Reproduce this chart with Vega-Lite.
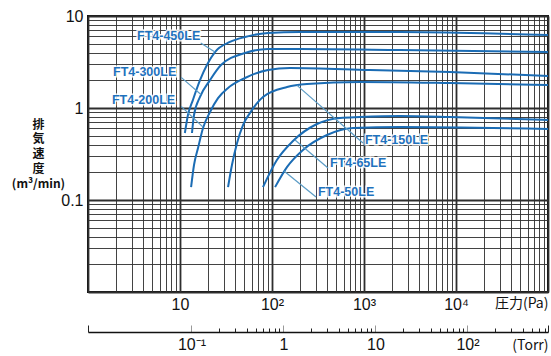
{
  "$schema": "https://vega.github.io/schema/vega-lite/v6.json",
  "width": 460,
  "height": 276,
  "autosize": {"type": "none"},
  "padding": {"left": 88, "top": 16, "right": 3, "bottom": 64},
  "background": "white",
  "config": {"view": {"stroke": "#111", "strokeWidth": 2}, "font": "Liberation Sans"},
  "datasets": {
    "curves": [
      {"model": "FT4-450LE", "p": 11.3, "s": 0.535},
      {"model": "FT4-450LE", "p": 12.2, "s": 0.84},
      {"model": "FT4-450LE", "p": 13.8, "s": 1.22},
      {"model": "FT4-450LE", "p": 16.5, "s": 2.01},
      {"model": "FT4-450LE", "p": 24.0, "s": 4.06},
      {"model": "FT4-450LE", "p": 34.9, "s": 5.22},
      {"model": "FT4-450LE", "p": 50.9, "s": 5.91},
      {"model": "FT4-450LE", "p": 90.5, "s": 6.54},
      {"model": "FT4-450LE", "p": 201, "s": 6.7},
      {"model": "FT4-450LE", "p": 2460, "s": 6.7},
      {"model": "FT4-450LE", "p": 20000, "s": 6.5},
      {"model": "FT4-450LE", "p": 100000, "s": 6.22},
      {"model": "FT4-300LE", "p": 13.5, "s": 0.535},
      {"model": "FT4-300LE", "p": 14.2, "s": 0.84},
      {"model": "FT4-300LE", "p": 16.5, "s": 1.32},
      {"model": "FT4-300LE", "p": 21.2, "s": 2.01},
      {"model": "FT4-300LE", "p": 27.9, "s": 2.93},
      {"model": "FT4-300LE", "p": 50.9, "s": 3.96},
      {"model": "FT4-300LE", "p": 90.5, "s": 4.38},
      {"model": "FT4-300LE", "p": 201, "s": 4.38},
      {"model": "FT4-300LE", "p": 2460, "s": 4.27},
      {"model": "FT4-300LE", "p": 100000, "s": 4.06},
      {"model": "FT4-200LE", "p": 13.2, "s": 0.138},
      {"model": "FT4-200LE", "p": 14.2, "s": 0.24},
      {"model": "FT4-200LE", "p": 15.7, "s": 0.367},
      {"model": "FT4-200LE", "p": 17.8, "s": 0.606},
      {"model": "FT4-200LE", "p": 21.2, "s": 0.905},
      {"model": "FT4-200LE", "p": 25.9, "s": 1.28},
      {"model": "FT4-200LE", "p": 33.3, "s": 1.65},
      {"model": "FT4-200LE", "p": 50.9, "s": 2.12},
      {"model": "FT4-200LE", "p": 90.5, "s": 2.59},
      {"model": "FT4-200LE", "p": 157, "s": 2.72},
      {"model": "FT4-200LE", "p": 1160, "s": 2.59},
      {"model": "FT4-200LE", "p": 8600, "s": 2.46},
      {"model": "FT4-200LE", "p": 100000, "s": 2.23},
      {"model": "FT4-150LE", "p": 33.3, "s": 0.138},
      {"model": "FT4-150LE", "p": 36.7, "s": 0.24},
      {"model": "FT4-150LE", "p": 41.7, "s": 0.417},
      {"model": "FT4-150LE", "p": 48.4, "s": 0.653},
      {"model": "FT4-150LE", "p": 57.5, "s": 0.88},
      {"model": "FT4-150LE", "p": 79.8, "s": 1.32},
      {"model": "FT4-150LE", "p": 146, "s": 1.69},
      {"model": "FT4-150LE", "p": 240, "s": 1.82},
      {"model": "FT4-150LE", "p": 905, "s": 1.92},
      {"model": "FT4-150LE", "p": 8600, "s": 1.87},
      {"model": "FT4-150LE", "p": 100000, "s": 1.78},
      {"model": "FT4-65LE", "p": 79.8, "s": 0.138},
      {"model": "FT4-65LE", "p": 113, "s": 0.272},
      {"model": "FT4-65LE", "p": 169, "s": 0.438},
      {"model": "FT4-65LE", "p": 308, "s": 0.67},
      {"model": "FT4-65LE", "p": 548, "s": 0.779},
      {"model": "FT4-65LE", "p": 905, "s": 0.798},
      {"model": "FT4-65LE", "p": 2460, "s": 0.818},
      {"model": "FT4-65LE", "p": 8600, "s": 0.8},
      {"model": "FT4-65LE", "p": 100000, "s": 0.74},
      {"model": "FT4-50LE", "p": 108, "s": 0.138},
      {"model": "FT4-50LE", "p": 146, "s": 0.229},
      {"model": "FT4-50LE", "p": 217, "s": 0.35},
      {"model": "FT4-50LE", "p": 396, "s": 0.509},
      {"model": "FT4-50LE", "p": 760, "s": 0.606},
      {"model": "FT4-50LE", "p": 2460, "s": 0.621},
      {"model": "FT4-50LE", "p": 100000, "s": 0.59}
    ],
    "leaders": [
      {"model": "FT4-450LE", "p": 16.8, "s": 5.1, "p2": 24.0, "s2": 4.06},
      {"model": "FT4-300LE", "p": 10.3, "s": 2.15, "p2": 16.9, "s2": 1.4},
      {"model": "FT4-200LE", "p": 10.3, "s": 1.04, "p2": 17.8, "s2": 0.62},
      {"model": "FT4-150LE", "p": 187, "s": 1.76, "p2": 975, "s2": 0.417},
      {"model": "FT4-65LE", "p": 178, "s": 0.449, "p2": 406, "s2": 0.223},
      {"model": "FT4-50LE", "p": 135, "s": 0.207, "p2": 301, "s2": 0.108}
    ],
    "labels": [
      {"model": "FT4-450LE", "p": 3.41, "s": 6.06},
      {"model": "FT4-300LE", "p": 1.87, "s": 2.46},
      {"model": "FT4-200LE", "p": 1.82, "s": 1.22},
      {"model": "FT4-150LE", "p": 1025, "s": 0.449},
      {"model": "FT4-65LE", "p": 427, "s": 0.252},
      {"model": "FT4-50LE", "p": 316, "s": 0.122}
    ],
    "torr": [
      {"t": 0.0075006, "s": 1},
      {"t": 750.06, "s": 1}
    ]
  },
  "layer": [
    {
      "layer": [
        {
          "data": {"name": "curves"},
          "mark": {"type": "line", "color": "#1b6cb4", "strokeWidth": 2, "interpolate": "monotone", "clip": true},
          "encoding": {
            "x": {
              "field": "p", "type": "quantitative",
              "scale": {"type": "log", "domain": [1, 100000], "nice": false},
              "axis": {
                "title": "圧力(Pa)",
                "titleFont": "Noto Sans CJK JP",
                "titleFontSize": 14,
                "titleFontWeight": "normal",
                "titleColor": "#111",
                "titleX": 460,
                "titleY": 11,
                "titleAlign": "right",
                "titleBaseline": "middle",
                "values": [1,2,3,4,5,6,7,8,9,10,20,30,40,50,60,70,80,90,100,200,300,400,500,600,700,800,900,1000,2000,3000,4000,5000,6000,7000,8000,9000,10000,20000,30000,40000,50000,60000,70000,80000,90000,100000],
                "labelExpr": "datum.value == 10 ? '10' : datum.value == 100 ? '10²' : datum.value == 1000 ? '10³' : datum.value == 10000 ? '10⁴' : ''",
                "labelFont": "Liberation Sans",
                "labelFontSize": 16,
                "labelColor": "#111",
                "labelPadding": 4,
                "labelOverlap": false,
                "labelFlush": false,
                "labelBound": false,
                "ticks": false,
                "domain": false,
                "grid": true,
                "gridColor": "#2e2e2e",
                "gridWidth": {"condition": {"test": "abs(log(datum.value)/LN10 - round(log(datum.value)/LN10)) < 0.000001", "value": 1.8}, "value": 0.9}
              }
            },
            "y": {
              "field": "s", "type": "quantitative",
              "scale": {"type": "log", "domain": [0.01, 10], "nice": false},
              "axis": {
                "title": ["排", "気", "速", "度", "(m³/min)"],
                "titleFont": "Noto Sans CJK JP",
                "titleFontSize": 12,
                "titleFontWeight": "bold",
                "titleColor": "#111",
                "titleAngle": 0,
                "titleX": -50,
                "titleY": 108,
                "titleAlign": "center",
                "titleBaseline": "middle",
                "titleLineHeight": 14.75,
                "values": [0.01,0.02,0.03,0.04,0.05,0.06,0.07,0.08,0.09,0.1,0.2,0.3,0.4,0.5,0.6,0.7,0.8,0.9,1,2,3,4,5,6,7,8,9,10],
                "labelExpr": "datum.value == 10 ? '10' : datum.value == 1 ? '1' : datum.value == 0.1 ? '0.1' : ''",
                "labelFont": "Liberation Sans",
                "labelFontSize": 16,
                "labelColor": "#111",
                "labelPadding": 5,
                "labelOverlap": false,
                "labelFlush": false,
                "labelBound": false,
                "ticks": false,
                "domain": false,
                "grid": true,
                "gridColor": "#2e2e2e",
                "gridWidth": {"condition": {"test": "abs(log(datum.value)/LN10 - round(log(datum.value)/LN10)) < 0.000001", "value": 1.8}, "value": 0.9}
              }
            },
            "detail": {"field": "model", "type": "nominal"}
          }
        },
        {
          "data": {"name": "leaders"},
          "mark": {"type": "rule", "color": "#5b9cc6", "strokeWidth": 1.2},
          "encoding": {
            "x": {"field": "p", "type": "quantitative"},
            "y": {"field": "s", "type": "quantitative"},
            "x2": {"field": "p2"},
            "y2": {"field": "s2"}
          }
        },
        {
          "data": {"name": "labels"},
          "mark": {"type": "text", "align": "left", "baseline": "middle", "fontSize": 12.5, "fontWeight": "bold", "font": "Liberation Sans", "color": "white", "stroke": "white", "strokeWidth": 3, "strokeOpacity": 0.85},
          "encoding": {
            "x": {"field": "p", "type": "quantitative"},
            "y": {"field": "s", "type": "quantitative"},
            "text": {"field": "model"}
          }
        },
        {
          "data": {"name": "labels"},
          "mark": {"type": "text", "align": "left", "baseline": "middle", "fontSize": 12.5, "fontWeight": "bold", "font": "Liberation Sans", "color": "#1f72bd"},
          "encoding": {
            "x": {"field": "p", "type": "quantitative"},
            "y": {"field": "s", "type": "quantitative"},
            "text": {"field": "model"}
          }
        }
      ]
    },
    {
      "data": {"name": "torr"},
      "mark": {"type": "point", "opacity": 0},
      "encoding": {
        "x": {
          "field": "t", "type": "quantitative",
          "scale": {"type": "log", "domain": [0.0075006, 750.06], "nice": false},
          "axis": {
            "orient": "bottom",
            "offset": 40,
            "title": "(Torr)",
            "titleFont": "Noto Sans CJK JP",
            "titleFontSize": 14,
            "titleFontWeight": "normal",
            "titleColor": "#111",
            "titleX": 460,
            "titleY": 13,
            "titleAlign": "right",
            "titleBaseline": "middle",
            "values": [0.0075006,0.1,0.2,0.3,0.4,0.5,0.6,0.7,0.8,0.9,1,2,3,4,5,6,7,8,9,10,20,30,40,50,60,70,80,90,100,200,300,400,500,600,700,750.06],
            "labelExpr": "datum.value == 0.1 ? '10⁻¹' : datum.value == 1 ? '1' : datum.value == 10 ? '10' : datum.value == 100 ? '10²' : ''",
            "labelFont": "Liberation Sans",
            "labelFontSize": 16,
            "labelColor": "#111",
            "labelPadding": 11,
            "labelOverlap": false,
            "labelFlush": false,
            "labelBound": false,
            "grid": false,
            "domain": true,
            "domainColor": "#111",
            "domainWidth": 1.6,
            "ticks": true,
            "tickSize": {"condition": {"test": "datum.value < 0.008 || datum.value > 740 || datum.value == 0.1 || datum.value == 1 || datum.value == 10 || datum.value == 100", "value": -7}, "value": -4},
            "tickWidth": 1,
            "tickColor": {"condition": {"test": "datum.value == 0.1 || datum.value == 1 || datum.value == 10 || datum.value == 100", "value": "#999"}, "value": "#222"}
          }
        },
        "y": {"field": "s", "type": "quantitative"}
      }
    }
  ],
  "resolve": {"scale": {"x": "independent"}, "axis": {"x": "independent"}}
}
